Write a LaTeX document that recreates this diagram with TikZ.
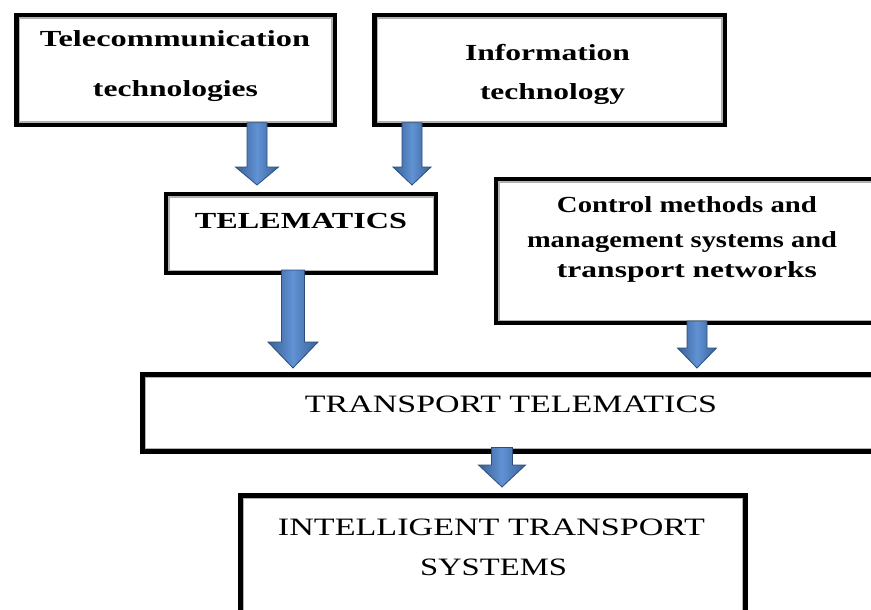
\documentclass[tikz,border=0pt]{standalone}
\usepackage{fontspec}
\setmainfont{Liberation Serif}
\usepackage{graphicx}
\usetikzlibrary{calc}
\definecolor{arrdark}{RGB}{58,97,150}
\definecolor{arrlight}{RGB}{96,146,212}
\definecolor{arredge}{RGB}{44,78,124}
\newcommand\tw[2]{\resizebox{#1pt}{\height}{#2}}
\newcommand\blockarrow[5]{%
  \path[arrowbody] let \p1=(#1), \p2=(#2) in
    (\x1-#3pt,\y1) -- (\x1-#3pt,\y2+#5pt) -- (\x1-#4pt,\y2+#5pt) -- (\x1,\y2)
    -- (\x1+#4pt,\y2+#5pt) -- (\x1+#3pt,\y2+#5pt) -- (\x1+#3pt,\y1) -- cycle;}
\tikzset{
  box/.style={draw=black, line width=4.5pt, fill=white, inner sep=0pt, outer sep=0pt,
    path picture={\draw[gray!60, line width=7pt] (path picture bounding box.south west) rectangle (path picture bounding box.north east);}},
  txt/.style={anchor=base, inner sep=0pt, outer sep=0pt, font=\fontsize{23}{23}\selectfont},
  btxt/.style={txt, font=\fontsize{23}{23}\selectfont\bfseries},
  ctxt/.style={txt, font=\fontsize{25}{25}\selectfont},
  arrowbody/.style={left color=arrdark, right color=arrdark, middle color=arrlight, draw=arredge, line width=0.8pt, line join=miter}
}
\begin{document}
\begin{tikzpicture}[x=1pt, y=-1pt]
\useasboundingbox (0,0) rectangle (871,610);
\clip (0,0) rectangle (871,610);
\fill[white] (0,0) rectangle (871,610);

% boxes
\node[box, minimum width=318.5pt, minimum height=109.5pt] (tc) at (175.5,70) {};
\node[box, minimum width=350.5pt, minimum height=109.5pt] (it) at (549.5,70) {};
\node[box, minimum width=270pt, minimum height=79pt] (tm) at (301,233.5) {};
\node[box, minimum width=389pt, minimum height=144pt] (ctl) at (690.5,251) {};
\node[box, minimum width=742.5pt, minimum height=77pt] (tt) at (513.75,413) {};
\node[box, minimum width=505pt, minimum height=120.5pt] (its) at (493,555.75) {};

% texts
\node[btxt] (tc1) at (175,47) {\tw{270}{Telecommunication}};
\node[btxt] (tc2) at (175.5,97) {\tw{165}{technologies}};
\node[btxt] (it1) at (547.5,60) {\tw{165}{Information}};
\node[btxt] (it2) at (552.5,100) {\tw{145}{technology}};
\node[btxt] (tm1) at (301,228) {\tw{212}{TELEMATICS}};
\node[btxt] (ct1) at (687,212) {\tw{260}{Control methods and}};
\node[btxt] (ct2) at (682,247) {\tw{310}{management systems and}};
\node[btxt] (ct3) at (687,277) {\tw{260}{transport networks}};
\node[ctxt] (tt1) at (511,412) {\tw{412}{TRANSPORT TELEMATICS}};
\node[ctxt] (its1) at (491.5,535) {\tw{427}{INTELLIGENT TRANSPORT}};
\node[ctxt] (its2) at (493.5,575) {\tw{147}{SYSTEMS}};

% arrows
\blockarrow{[xshift=81.5pt,yshift=2pt]tc.south}{[yshift=9pt]tm.north}{10}{21.5}{18}
\blockarrow{[xshift=-137.5pt,yshift=2pt]it.south}{[yshift=9pt]tm.north}{10}{19}{18}
\blockarrow{[xshift=-8pt,yshift=3pt]tm.south}{[yshift=6.5pt]tt.north}{11.5}{25}{26}
\blockarrow{[xshift=6.5pt,yshift=2pt]ctl.south}{[yshift=6.5pt]tt.north}{10}{19.5}{20}
\blockarrow{[xshift=-11.75pt,yshift=4pt]tt.south}{[yshift=8.5pt]its.north}{10.5}{23.5}{22}
\end{tikzpicture}
\end{document}
